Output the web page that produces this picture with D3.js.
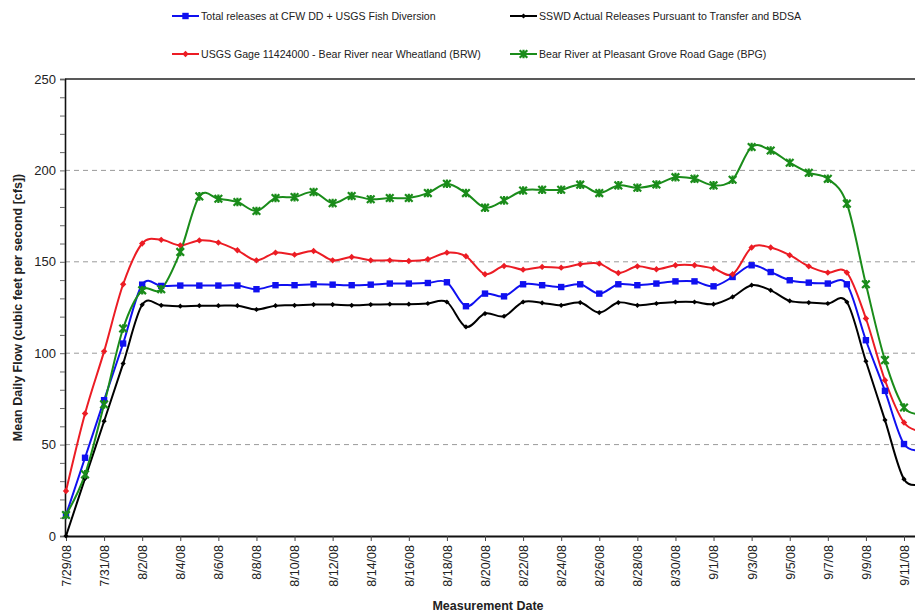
<!DOCTYPE html>
<html><head><meta charset="utf-8">
<script src="https://cdn.jsdelivr.net/npm/d3@7"></script>
<style>
html,body{margin:0;padding:0;background:#fff;}
svg{display:block;font-family:"Liberation Sans",Arial,sans-serif;}
</style></head>
<body><svg id="c" width="915" height="614"></svg>
<script>
const nDays = 46; // 7/29/08 .. 9/12/08
const dates = d3.range(nDays).map(i => d3.timeDay.offset(new Date(2008, 6, 29), i));

const totalReleases = [11.5,42.8,74.3,105.3,137.5,136.8,137,137,137,137,135,137.2,137.2,137.7,137.5,137.2,137.5,138.1,138.1,138.4,138.8,125.7,132.6,131.1,137.7,137.2,136.2,137.7,132.6,137.7,137.2,138.1,139.3,139.3,136.6,141.7,148.1,144.4,139.9,138.6,138.1,137.7,107.1,79.4,50.3,47.5];
const sswdReleases = [0,31.5,62.8,94.3,126.5,126.2,125.7,126,126,126,123.9,126,126.2,126.6,126.6,126.2,126.6,126.8,126.8,127.2,128,114.4,121.7,120.2,128,127.5,126.2,127.7,122.2,127.7,126.2,127.2,128,128,126.8,130.8,137.2,134.4,128.6,127.7,127.2,128,95.6,63.4,31.1,29];
const brwGage = [24.6,67,101,137.7,160,162,159,161.7,160.5,156.3,150.8,155,153.9,155.9,150.8,152.6,150.8,150.8,150.4,151.4,155,153,143.2,147.7,145.7,147.2,146.8,148.6,149,143.9,147.5,145.9,148.1,148.1,146.3,143.2,157.8,157.8,153.6,147.5,144.1,144.1,119,85.2,62.1,57];
const bpgGage = [11.5,33.7,72,113.5,134.4,135,155.4,185.8,184.5,182.7,177.8,184.9,185.4,188.2,182.1,186,184.2,184.9,184.9,187.6,192.7,187.6,179.6,183.6,189,189.4,189.4,192.2,187.6,191.8,190.5,192.3,196.3,195.4,191.8,194.9,212.8,210.9,204.2,198.7,195.4,181.8,137.7,96.2,70.3,67];

const yTicks = [0,50,100,150,200,250];
const gridValues = [50,100,150,200];
const seriesNames = [
  "Total releases at CFW DD + USGS Fish Diversion",
  "SSWD Actual Releases Pursuant to Transfer and BDSA",
  "USGS Gage 11424000 - Bear River near Wheatland (BRW)",
  "Bear River at Pleasant Grove Road Gage (BPG)"
];
const yTitle = "Mean Daily Flow (cubic feet per second [cfs])";
const xTitle = "Measurement Date";

(function(){
const series = [
  {name: seriesNames[0], values: totalReleases, color: "#1010f0", marker: "square"},
  {name: seriesNames[1], values: sswdReleases, color: "#000000", marker: "diamondSmall"},
  {name: seriesNames[2], values: brwGage, color: "#ec1c24", marker: "diamond"},
  {name: seriesNames[3], values: bpgGage, color: "#1a8c1a", marker: "star"}
];

const svg = d3.select("#c");
const pL = 65, pT = 79, pB = 536;
const x = d3.scaleTime().domain([new Date(2008,6,29), new Date(2008,8,11)]).range([66, 904]);
const y = d3.scaleLinear().domain([0,250]).range([pB, pT]);

svg.append("g").selectAll("line").data(gridValues).join("line")
  .attr("x1", pL).attr("x2", 915)
  .attr("y1", d => y(d)).attr("y2", d => y(d))
  .attr("stroke", "#9a9a9a").attr("stroke-width", 1).attr("stroke-dasharray", "5,4");

svg.append("line").attr("x1", pL).attr("x2", 915).attr("y1", y(250)).attr("y2", y(250))
  .attr("stroke", "#222").attr("stroke-width", 1.5);

const yAxis = d3.axisLeft(y).tickValues(d3.range(0,251,10)).tickSize(5)
  .tickFormat(d => yTicks.includes(d) ? d : "");
const gy = svg.append("g").attr("transform", `translate(${pL},0)`).call(yAxis);
gy.select(".domain").attr("stroke", "#111").attr("stroke-width", 1.6);
gy.selectAll(".tick line").attr("stroke", "#666").attr("stroke-width", 1);
gy.selectAll(".tick text").attr("font-size", 13).attr("fill", "#222").attr("x", -9)
  .attr("font-family", "'Liberation Sans',Arial,sans-serif");

const tickDates = d3.range(0, 45, 2).map(i => dates[i]);
const fmt = d => (d.getMonth()+1) + "/" + d.getDate() + "/08";
const xAxis = d3.axisBottom(x).tickValues(tickDates).tickSize(5).tickFormat(fmt);
const gx = svg.append("g").attr("transform", `translate(0,${pB})`).call(xAxis);
gx.select(".domain").attr("stroke", "#111").attr("stroke-width", 2.2).attr("d", `M${pL},0.5H915`);
gx.selectAll(".tick line").attr("stroke", "#444");
gx.selectAll(".tick text")
  .attr("font-size", 12.5).attr("fill", "#222")
  .attr("font-family", "'Liberation Sans',Arial,sans-serif")
  .attr("transform", "rotate(-90)")
  .attr("text-anchor", "end").attr("dy", "0.35em").attr("x", -9).attr("y", 0);

svg.append("text").attr("x", 488).attr("y", 610).attr("text-anchor", "middle")
  .attr("font-size", 12.5).attr("font-weight", "bold").attr("fill", "#222").text(xTitle);
svg.append("text").attr("transform", `translate(22,${(pT+pB)/2}) rotate(-90)`)
  .attr("text-anchor", "middle").attr("font-size", 12.5).attr("font-weight", "bold").attr("fill", "#222").text(yTitle);

function drawMarker(g, type, color, cx, cy) {
  if (type === "square") {
    g.append("rect").attr("x", cx-3.2).attr("y", cy-3.2).attr("width", 6.4).attr("height", 6.4).attr("fill", color);
  } else if (type === "diamond") {
    g.append("path").attr("d", `M${cx},${cy-3.2}L${cx+3.2},${cy}L${cx},${cy+3.2}L${cx-3.2},${cy}Z`).attr("fill", color);
  } else if (type === "diamondSmall") {
    g.append("path").attr("d", `M${cx},${cy-2.6}L${cx+2.6},${cy}L${cx},${cy+2.6}L${cx-2.6},${cy}Z`).attr("fill", color);
  } else if (type === "star") {
    const s = 3.8;
    g.append("path").attr("d", `M${cx-s},${cy-s}L${cx+s},${cy+s}M${cx+s},${cy-s}L${cx-s},${cy+s}M${cx},${cy-s-0.5}V${cy+s+0.5}`)
      .attr("stroke", color).attr("stroke-width", 2.2).attr("fill", "none");
  }
}

const line = d3.line().x((d,i) => x(dates[i])).y(d => y(d)).curve(d3.curveCardinal.tension(0));
const plot = svg.append("g");
series.forEach(s => {
  plot.append("path").datum(s.values).attr("d", line)
    .attr("fill", "none").attr("stroke", s.color).attr("stroke-width", 2);
});
series.forEach(s => {
  const g = plot.append("g");
  s.values.forEach((v,i) => drawMarker(g, s.marker, s.color, x(dates[i]), y(v)));
});

const legendPos = [[172,16],[510,16],[172,54],[510,54]];
series.forEach((s,i) => {
  const [lx, ly] = legendPos[i];
  const g = svg.append("g");
  g.append("line").attr("x1", lx).attr("x2", lx+27).attr("y1", ly).attr("y2", ly)
    .attr("stroke", s.color).attr("stroke-width", 2);
  drawMarker(g, s.marker, s.color, lx+13.5, ly);
  g.append("text").attr("x", lx+29).attr("y", ly).attr("dy", "0.35em")
    .attr("font-size", 10.6).attr("fill", "#222").text(s.name);
});
})();
</script></body></html>
